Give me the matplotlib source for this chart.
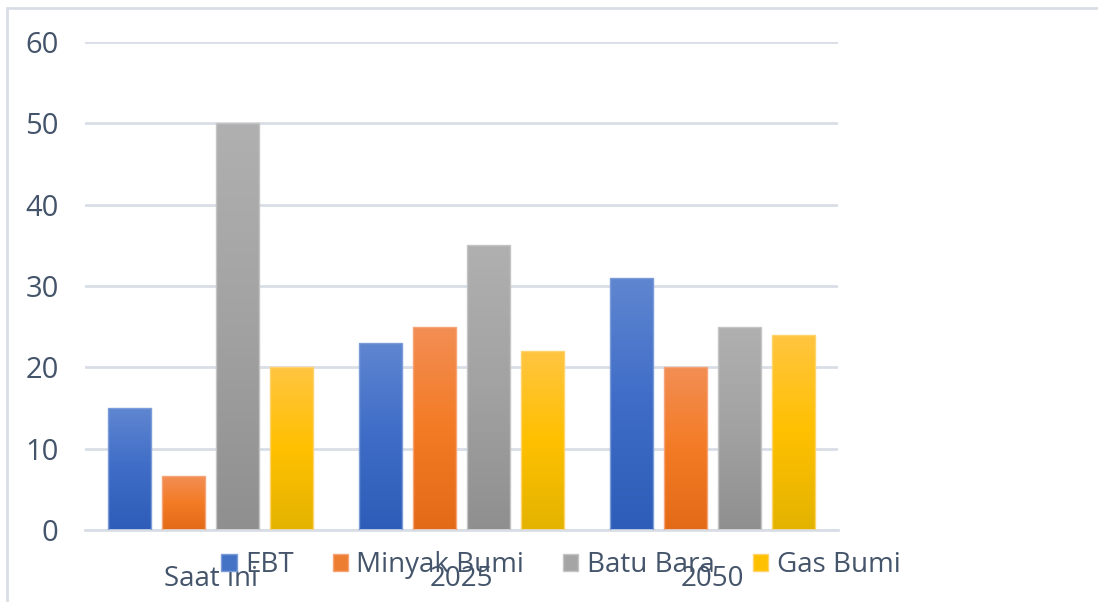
import numpy as np
import matplotlib
matplotlib.use('Agg')
import matplotlib.pyplot as plt
from matplotlib.colors import LinearSegmentedColormap
from matplotlib.patches import Rectangle, Patch

# data
categories = ['Saat ini', '2025', '2050']
series_names = ['EBT', 'Minyak Bumi', 'Batu Bara', 'Gas Bumi']
ebt = [15, 23, 31]
minyak_bumi = [6.6, 25, 20]
batu_bara = [50, 35, 25]
gas_bumi = [20, 22, 24]
yticks = [0, 10, 20, 30, 40, 50, 60]

series = [ebt, minyak_bumi, batu_bara, gas_bumi]

# gradient stops (bottom -> top), excel style
grads = [
    ['#2D5DB8', '#3E6CC7', '#5F86D0'],
    ['#E36A17', '#F47B25', '#F28E54'],
    ['#8F8F8F', '#A2A2A2', '#B0B0B0'],
    ['#E3B300', '#FFC000', '#FFC541'],
]
edge_cols = ['#7C9CD9', '#F5A477', '#C4C4C4', '#FFD36B']
solid_cols = ['#4472C4', '#ED7D31', '#A5A5A5', '#FFC000']

text_col = '#44546A'
grid_col = '#D9DEE6'

plt.rcParams['font.family'] = ['Open Sans', 'DejaVu Sans']

fig = plt.figure(figsize=(10.98, 6.02), dpi=100)
ax = fig.add_axes([85/1098, 1-530/602, (838-85)/1098, (530-42)/602])

x = np.arange(len(categories))
step = 0.215
width = 0.171

for i, vals in enumerate(series):
    offs = (i - 1.5) * step
    cmap = LinearSegmentedColormap.from_list('g%d' % i, grads[i])
    bars = ax.bar(x + offs, vals, width, color='none', edgecolor=edge_cols[i],
                  linewidth=1, zorder=3)
    grad = np.linspace(0, 1, 256).reshape(-1, 1)
    for b in bars:
        bx, by = b.get_x(), b.get_y()
        bw, bh = b.get_width(), b.get_height()
        im = ax.imshow(grad, cmap=cmap, origin='lower', aspect='auto',
                       extent=[bx, bx + bw, by, by + bh], zorder=2)
        im.set_clip_path(b)

ax.set_xlim(-0.5, len(categories) - 0.5)
ax.set_ylim(0, 60)

ax.set_yticks(yticks)
ax.yaxis.grid(True, color=grid_col, linewidth=2)
ax.set_axisbelow(True)
ax.set_xticks(x)
ax.set_xticklabels(categories)
ax.tick_params(axis='y', length=0, pad=19, labelsize=21, labelcolor=text_col)
ax.tick_params(axis='x', length=0, pad=25, labelsize=20, labelcolor=text_col)

for s in ['top', 'right', 'left']:
    ax.spines[s].set_visible(False)
ax.spines['bottom'].set_color(grid_col)
ax.spines['bottom'].set_linewidth(2)

handles = [Patch(facecolor=solid_cols[i], edgecolor=edge_cols[i], label=series_names[i])
           for i in range(4)]
fig.legend(handles=handles, loc='center', bbox_to_anchor=(561/1098, 1-565/602),
           ncol=4, frameon=False, fontsize=20, labelcolor=text_col,
           handlelength=0.55, handleheight=0.55, handletextpad=0.3, columnspacing=1.4)

# outer chart border
fig.patches.append(Rectangle((7/1098, -0.1), 1.2, 1.1 - 8/602, transform=fig.transFigure,
                             fill=False, edgecolor=grid_col, linewidth=2))

fig.savefig('out.png', dpi=100)
